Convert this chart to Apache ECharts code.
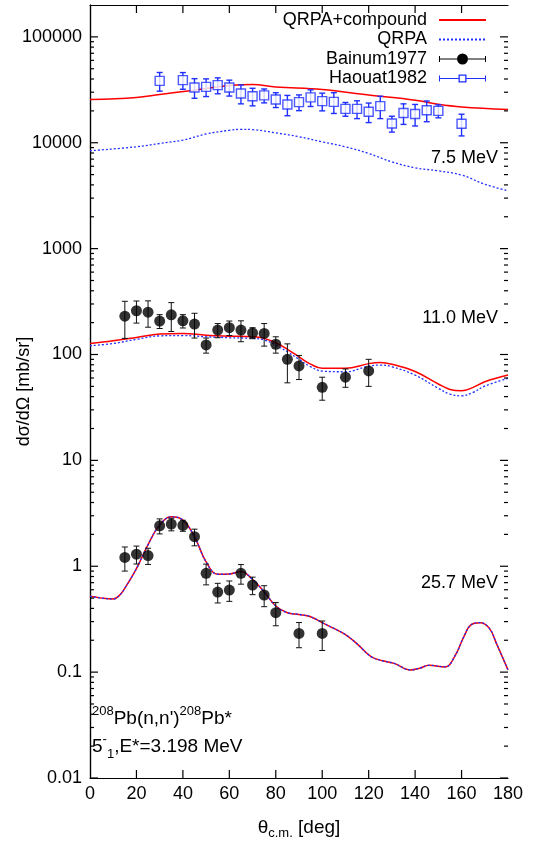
<!DOCTYPE html>
<html>
<head>
<meta charset="utf-8">
<title>208Pb(n,n') 5-1</title>
<script src="https://cdn.jsdelivr.net/npm/echarts@6.0.0/dist/echarts.min.js"></script>
<style>
  html, body { margin: 0; padding: 0; background: #fff; }
  #chart { width: 547px; height: 842px; }
</style>
</head>
<body>
<div id="chart"></div>
<script>
// --- data ---
const FONT = "Liberation Sans";

// 7.5 MeV theory curves
const thComp7 = [0, 20, 30, 45, 60, 70, 80, 100, 120, 140, 150, 160, 180];
const comp7 = [25600, 26800, 28600, 31400, 34700, 35500, 33700, 31800, 28200, 25200, 23100, 21800, 20600];
const thQrpa7 = [0, 20, 30, 40, 50, 60, 65, 70, 80, 90, 100, 110, 120, 130, 140, 150, 160, 170, 180];
const qrpa7 = [8400, 9160, 9840, 10600, 12100, 13100, 13400, 13300, 12400, 11400, 10200, 9160, 7920, 6600, 5800, 5430, 4950, 4060, 3510];

// 11.0 MeV theory curves
const th11 = [0, 10, 20, 30, 40, 50, 60, 70, 75, 80, 85, 90, 95, 100, 110, 120, 125, 130, 140, 150, 155, 160, 165, 170, 180];
const comp11 = [127, 135, 145, 156, 158, 152, 149, 147, 142, 129, 112, 95, 81, 74, 74, 82, 84, 81, 69, 52.6, 46.8, 45.4, 48.9, 55.2, 63.9];
const qrpa11 = [121, 127, 139, 150, 151, 147, 144, 142, 137, 123, 106, 90, 76.6, 69.7, 68.7, 77.6, 79.4, 76.6, 63.9, 47.9, 42.3, 40.7, 43.9, 50.3, 59.5];

// 25.7 MeV theory curves (the two coincide)
const th25 = [0, 5, 10, 13, 15, 20, 25, 30, 35, 40, 45, 50, 55, 60, 65, 70, 75, 80, 85, 90, 95, 100, 105, 110, 115, 121, 126, 131, 138, 142, 146, 153, 157, 161, 164, 168, 172, 175, 180];
const comp25 = [0.52, 0.50, 0.49, 0.54, 0.62, 0.95, 1.6, 2.45, 2.93, 2.73, 1.90, 1.10, 0.84, 0.845, 0.89, 0.75, 0.574, 0.421, 0.364, 0.351, 0.334, 0.293, 0.259, 0.226, 0.185, 0.140, 0.128, 0.121, 0.105, 0.109, 0.116, 0.112, 0.140, 0.216, 0.279, 0.293, 0.259, 0.187, 0.105];
const qrpa25 = [0.52, 0.50, 0.49, 0.54, 0.62, 0.95, 1.6, 2.45, 2.93, 2.73, 1.90, 1.10, 0.84, 0.845, 0.89, 0.75, 0.574, 0.421, 0.364, 0.351, 0.334, 0.293, 0.259, 0.226, 0.185, 0.140, 0.128, 0.121, 0.105, 0.109, 0.116, 0.112, 0.140, 0.216, 0.279, 0.293, 0.259, 0.187, 0.105];

// Haouat1982, 7.5 MeV
const haoTh = [30, 40, 45, 50, 55, 60, 65, 70, 75, 80, 85, 90, 95, 100, 105, 110, 115, 120, 125, 130, 135, 140, 145, 150, 160];
const haoVal = [38400, 39000, 33300, 33700, 35000, 33300, 29200, 27500, 28000, 25600, 23000, 24200, 26800, 24700, 24300, 20900, 20900, 19600, 22200, 15200, 19100, 18700, 20300, 20000, 15100];
const haoErr = [7700, 7000, 7000, 6400, 6000, 5700, 5900, 5200, 4200, 4100, 5000, 4100, 4800, 4700, 5400, 3100, 4000, 4100, 5300, 2600, 4200, 4300, 4500, 2800, 3500];

// Bainum1977, 11.0 MeV
const bai11Th = [15, 20, 25, 30, 35, 40, 45, 50, 55, 60, 65, 70, 75, 80, 85, 90, 100, 110, 120];
const bai11Val = [230, 259, 251, 207, 237, 208, 194, 123, 170, 179, 170, 160, 158, 125, 90, 78, 49, 61, 70];
const bai11Err = [88, 61, 70, 31, 72, 30, 51, 20, 26, 28, 38, 19, 38, 22, 36, 20, 12, 12, 20];

// Bainum1977, 25.7 MeV
const bai25Th = [15, 20, 25, 30, 35, 40, 45, 50, 55, 60, 65, 70, 75, 80, 90, 100];
const bai25Val = [1.21, 1.30, 1.26, 2.41, 2.50, 2.43, 1.90, 0.857, 0.570, 0.596, 0.857, 0.664, 0.535, 0.364, 0.232, 0.232];
const bai25Err = [0.31, 0.25, 0.22, 0.39, 0.34, 0.29, 0.34, 0.19, 0.12, 0.13, 0.18, 0.125, 0.12, 0.09, 0.062, 0.072];

// axis ranges and ticks
const X_MIN = 0, X_MAX = 180;
const Y_MIN = 0.01, Y_MAX = 200000;
const xTicks = [20, 40, 60, 80, 100, 120, 140, 160];
const decades = [0.01, 0.1, 1, 10, 100, 1000, 10000, 100000];
const minorMults = [2, 3, 4, 5, 6, 7, 8, 9];

// --- helpers ---
const pairs = (xs, ys) => xs.map((x, i) => [x, ys[i]]);
const bars = (xs, ys, es) => xs.map((x, i) => [x, ys[i] - es[i], ys[i] + es[i]]);

const RED = "#ff0000";
const BLUE = "#1f2fff";

// plot box in px (grid below), used only to turn tick lengths into axis units
const PLOT_W = 547 - 90 - 39;
const PLOT_H = 842 - 5 - 64;
const degPerPx = (X_MAX - X_MIN) / PLOT_W;
const decPerPx = (Math.log10(Y_MAX) - Math.log10(Y_MIN)) / PLOT_H;

// tick marks are tiny line series; they carry a legend name so the legend keeps them visible
const tickSeries = (data) => ({
    name: "QRPA+compound",
    type: "line",
    data,
    symbol: "none",
    silent: true,
    clip: false,
    lineStyle: { color: "#000", width: 1.2 },
    itemStyle: { color: "#000" },
    z: 6,
});

const ticks = [];
decades.forEach((d) => {
    const put = (v, px) => {
        ticks.push(tickSeries([[X_MIN, v], [X_MIN + px * degPerPx, v]]));
        ticks.push(tickSeries([[X_MAX - px * degPerPx, v], [X_MAX, v]]));
    };
    put(d, 8);
    minorMults.forEach((m) => {
        if (m * d < Y_MAX) put(m * d, 4);
    });
});
xTicks.forEach((x) => {
    ticks.push(tickSeries([[x, Y_MIN], [x, Y_MIN * Math.pow(10, 8 * decPerPx)]]));
    ticks.push(tickSeries([[x, Y_MAX / Math.pow(10, 8 * decPerPx)], [x, Y_MAX]]));
});

const errorBarRender = (color, width) => (params, api) => {
    const x = api.value(0);
    const top = api.coord([x, api.value(2)]);
    const bot = api.coord([x, api.value(1)]);
    const cap = 3;
    const style = { stroke: color, lineWidth: width };
    return {
        type: "group",
        children: [
            { type: "line", shape: { x1: top[0], y1: top[1], x2: bot[0], y2: bot[1] }, style },
            { type: "line", shape: { x1: top[0] - cap, y1: top[1], x2: top[0] + cap, y2: top[1] }, style },
            { type: "line", shape: { x1: bot[0] - cap, y1: bot[1], x2: bot[0] + cap, y2: bot[1] }, style },
        ],
    };
};

const curve = (name, data, color, type, width) => ({
    name,
    type: "line",
    data,
    smooth: 0.4,
    symbol: "none",
    lineStyle: { color, width, type },
    itemStyle: { color },
    silent: true,
    z: 3,
});

// legend icons (line with caps + marker)
const iconBainum = "path://M0,5L18,5L18,6L0,6Z M29,5L47,5L47,6L29,6Z M0,2.5L1,2.5L1,8.5L0,8.5Z M46,2.5L47,2.5L47,8.5L46,8.5Z " +
    "M29,5.5A5.5,5.5,0,1,1,18,5.5A5.5,5.5,0,1,1,29,5.5Z";
const iconHaouat = "path://M0,5L19.5,5L19.5,6L0,6Z M27.5,5L47,5L47,6L27.5,6Z M0,2.5L1,2.5L1,8.5L0,8.5Z M46,2.5L47,2.5L47,8.5L46,8.5Z " +
    "M19.5,1.5L27.5,1.5L27.5,9.5L19.5,9.5Z M20.8,2.8L20.8,8.2L26.2,8.2L26.2,2.8Z";

const yFmt = (v) => {
    const e = Math.log10(v);
    if (Math.abs(e - Math.round(e)) > 1e-6) return "";
    return String(+Number(v).toPrecision(6));
};

const axisLineStyle = { show: true, lineStyle: { color: "#000", width: 1.2 } };

const option = {
    animation: false,
    backgroundColor: "#fff",
    textStyle: { fontFamily: FONT },
    grid: { left: 90, right: 39, top: 5, bottom: 64, containLabel: false, outerBoundsMode: "none" },
    legend: {
        orient: "vertical",
        right: 55,
        top: 6,
        align: "right",
        itemWidth: 47,
        itemHeight: 11,
        itemGap: 1.5,
        selectedMode: false,
        textStyle: { fontFamily: FONT, fontSize: 18, color: "#000", padding: [0, 7, 0, 0] },
        data: [
            { name: "QRPA+compound", itemStyle: { opacity: 0 } },
            { name: "QRPA", itemStyle: { opacity: 0 } },
            { name: "Bainum1977", icon: iconBainum, itemStyle: { color: "#000", borderWidth: 0 } },
            { name: "Haouat1982", icon: iconHaouat, itemStyle: { color: BLUE, borderWidth: 0 } },
        ],
    },
    xAxis: [
        {
            type: "value",
            min: X_MIN,
            max: X_MAX,
            interval: 20,
            position: "bottom",
            axisLine: axisLineStyle,
            axisTick: { show: false },
            splitLine: { show: false },
            axisLabel: { fontFamily: FONT, fontSize: 18, color: "#000", margin: 7 },
            name: "{t|θ}{s|c.m.}{t| [deg]}",
            nameLocation: "middle",
            nameGap: 38,
            nameMoveOverlap: false,
            nameTextStyle: {
                rich: {
                    t: { fontFamily: FONT, fontSize: 19, color: "#000", lineHeight: 24 },
                    s: { fontFamily: FONT, fontSize: 13, color: "#000", lineHeight: 13, verticalAlign: "bottom" },
                },
            },
        },
        {
            type: "value",
            min: X_MIN,
            max: X_MAX,
            interval: 20,
            position: "top",
            axisLine: axisLineStyle,
            axisTick: { show: false },
            axisLabel: { show: false },
            splitLine: { show: false },
        },
    ],
    yAxis: [
        {
            type: "log",
            logBase: 10,
            min: Y_MIN,
            max: Y_MAX,
            splitNumber: 8,
            position: "left",
            axisLine: axisLineStyle,
            axisTick: { show: false },
            splitLine: { show: false },
            axisLabel: { fontFamily: FONT, fontSize: 18, color: "#000", margin: 8, formatter: yFmt, showMaxLabel: false },
            name: "dσ/dΩ [mb/sr]",
            nameLocation: "middle",
            nameGap: 57,
            nameMoveOverlap: false,
            nameTextStyle: { fontFamily: FONT, fontSize: 18, color: "#000" },
        },
        {
            type: "log",
            logBase: 10,
            min: Y_MIN,
            max: Y_MAX,
            splitNumber: 8,
            position: "right",
            axisLine: axisLineStyle,
            axisTick: { show: false },
            axisLabel: { show: false },
            splitLine: { show: false },
        },
    ],
    graphic: [
        { type: "text", style: { text: "7.5 MeV", x: 498, y: 158, align: "right", verticalAlign: "middle", fontFamily: FONT, fontSize: 18, fill: "#000" } },
        { type: "text", style: { text: "11.0 MeV", x: 498, y: 318, align: "right", verticalAlign: "middle", fontFamily: FONT, fontSize: 18, fill: "#000" } },
        { type: "text", style: { text: "25.7 MeV", x: 498, y: 583, align: "right", verticalAlign: "middle", fontFamily: FONT, fontSize: 18, fill: "#000" } },
        {
            type: "text",
            style: {
                text: "{s|208}{m|Pb(n,n')}{s|208}{m|Pb*}\n{m|5}{s|-}{b|1}{m|,E*=3.198 MeV}",
                x: 92,
                y: 705,
                align: "left",
                verticalAlign: "top",
                fill: "#000",
                fontFamily: FONT,
                fontSize: 19,
                rich: {
                    m: { fontFamily: FONT, fontSize: 19, lineHeight: 28, fill: "#000" },
                    s: { fontFamily: FONT, fontSize: 13, lineHeight: 13, verticalAlign: "top", fill: "#000" },
                    b: { fontFamily: FONT, fontSize: 13, lineHeight: 13, verticalAlign: "bottom", fill: "#000" },
                },
            },
        },
    ],
    series: [
        curve("QRPA+compound", pairs(thComp7, comp7), RED, "solid", 1.5),
        curve("QRPA+compound", pairs(th11, comp11), RED, "solid", 1.5),
        curve("QRPA+compound", pairs(th25, comp25), RED, "solid", 1.5),
        curve("QRPA", pairs(thQrpa7, qrpa7), BLUE, [2, 2], 1.3),
        curve("QRPA", pairs(th11, qrpa11), BLUE, [2, 2], 1.3),
        curve("QRPA", pairs(th25, qrpa25), BLUE, [2, 2], 1.3),
        {
            name: "Bainum1977",
            type: "custom",
            data: bars(bai11Th, bai11Val, bai11Err).concat(bars(bai25Th, bai25Val, bai25Err)),
            encode: { x: 0, y: [1, 2] },
            renderItem: errorBarRender("#111", 1),
            itemStyle: { color: "#000" },
            silent: true,
            z: 4,
        },
        {
            name: "Haouat1982",
            type: "custom",
            data: bars(haoTh, haoVal, haoErr),
            encode: { x: 0, y: [1, 2] },
            renderItem: errorBarRender(BLUE, 1.4),
            itemStyle: { color: BLUE },
            silent: true,
            z: 4,
        },
        {
            name: "Bainum1977",
            type: "scatter",
            data: pairs(bai11Th, bai11Val).concat(pairs(bai25Th, bai25Val)),
            symbol: "circle",
            symbolSize: 11,
            itemStyle: { color: "#000" },
            z: 5,
        },
        {
            name: "Haouat1982",
            type: "scatter",
            data: pairs(haoTh, haoVal),
            symbol: "rect",
            symbolSize: 9,
            itemStyle: { color: "#fff", borderColor: BLUE, borderWidth: 1.4 },
            z: 5,
        },
    ].concat(ticks),
};

const myChart = echarts.init(document.getElementById("chart"), null, { renderer: "canvas" });
myChart.setOption(option);
</script>
</body>
</html>
